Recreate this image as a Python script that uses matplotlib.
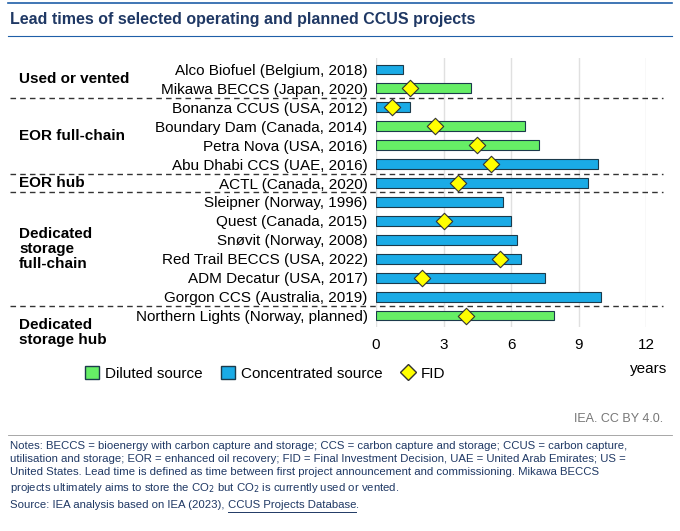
import matplotlib
matplotlib.use("Agg")
import matplotlib.pyplot as plt
from matplotlib.transforms import blended_transform_factory
from matplotlib.patches import Patch
from matplotlib.lines import Line2D

plt.rcParams['font.family'] = ['Liberation Sans', 'DejaVu Sans']

projects = ["Alco Biofuel (Belgium, 2018)", "Mikawa BECCS (Japan, 2020)",
            "Bonanza CCUS (USA, 2012)", "Boundary Dam (Canada, 2014)",
            "Petra Nova (USA, 2016)", "Abu Dhabi CCS (UAE, 2016)",
            "ACTL (Canada, 2020)", "Sleipner (Norway, 1996)",
            "Quest (Canada, 2015)", "Snøvit (Norway, 2008)",
            "Red Trail BECCS (USA, 2022)", "ADM Decatur (USA, 2017)",
            "Gorgon CCS (Australia, 2019)", "Northern Lights (Norway, planned)"]
lead_time = [1.2, 4.2, 1.5, 6.6, 7.25, 9.85, 9.4, 5.65, 6.0, 6.25, 6.45, 7.5, 10.0, 7.9]
source = ["C", "D", "C", "D", "D", "C", "C", "C", "C", "C", "C", "C", "C", "D"]
fid = [None, 1.5, 0.7, 2.6, 4.5, 5.1, 3.65, None, 3.0, None, 5.5, 2.05, None, 4.0]
groups = ["Used or vented", "EOR full-chain", "EOR hub",
          "Dedicated\nstorage\nfull-chain", "Dedicated\nstorage hub"]
group_rows = [(0, 1), (2, 5), (6, 6), (7, 12), (13, 13)]

green, blue = "#66ee66", "#1aabe6"
navy = "#1f3864"

fig = plt.figure(figsize=(6.8, 5.31), dpi=100)
ax = fig.add_axes([0.553, 0.384, 0.397, 0.507])
ypos = list(range(len(projects)))
cols = [green if s == "D" else blue for s in source]
ax.barh(ypos, lead_time, height=0.5, color=cols, edgecolor="#1b3a4b", linewidth=0.8, zorder=3)
fx = [f for f in fid if f is not None]
fy = [y for y, f in zip(ypos, fid) if f is not None]
ax.scatter(fx, fy, marker="D", s=70, color="#ffff00", edgecolor="#333333", linewidth=0.8, zorder=4)
ax.set_ylim(13.6, -0.6)
ax.set_xlim(0, 12)
ax.set_xticks([0, 3, 6, 9, 12])
ax.tick_params(axis="x", length=0, labelsize=11, pad=8)
ax.set_yticks(ypos)
ax.set_yticklabels(projects, fontsize=11)
ax.tick_params(axis="y", length=0, pad=6)
ax.grid(axis="x", color="#e0e0e0", linewidth=1, zorder=0)
for s in ax.spines.values():
    s.set_visible(False)
ax.text(12.1, 15.8, "years", fontsize=11, ha="center", va="center")

tr = blended_transform_factory(fig.transFigure, ax.transData)
for i, (a, b) in enumerate(group_rows):
    if i > 0:
        ax.plot([0.015, 0.975], [a - 0.5, a - 0.5], transform=tr, color="#333333",
                ls=(0, (4, 3)), lw=1, clip_on=False)
    yc = (a + b) / 2 if b > a else a + (0.9 if i == 4 else 0)
    ax.text(0.028, yc, groups[i], transform=tr,
            fontsize=11, fontweight="bold", va="center", ha="left", linespacing=1.1)

handles = [Patch(facecolor=green, edgecolor="#1b3a4b", label="Diluted source"),
           Patch(facecolor=blue, edgecolor="#1b3a4b", label="Concentrated source"),
           Line2D([], [], marker="D", ls="", markersize=8, markerfacecolor="#ffff00",
                  markeredgecolor="#333333", label="FID")]
fig.legend(handles=handles, loc="center", bbox_to_anchor=(0.39, 0.297), ncol=3, frameon=False,
           fontsize=11, handlelength=0.9, handleheight=0.9, columnspacing=1.2, handletextpad=0.4)

fig.text(0.015, 0.963, "Lead times of selected operating and planned CCUS projects",
         fontsize=11.5, fontweight="bold", color=navy, va="center")
fig.add_artist(Line2D([0.012, 0.988], [0.995, 0.995], color="#1f5fa8", lw=1.2))
fig.add_artist(Line2D([0.012, 0.988], [0.933, 0.933], color="#1f5fa8", lw=0.8))
fig.text(0.975, 0.21, "IEA. CC BY 4.0.", fontsize=9, color="#777777", ha="right", va="center")
fig.add_artist(Line2D([0.012, 0.988], [0.18, 0.18], color="#999999", lw=0.6))
notes = ("Notes: BECCS = bioenergy with carbon capture and storage; CCS = carbon capture and storage; CCUS = carbon capture,\n"
         "utilisation and storage; EOR = enhanced oil recovery; FID = Final Investment Decision, UAE = United Arab Emirates; US =\n"
         "United States. Lead time is defined as time between first project announcement and commissioning. Mikawa BECCS\n"
         "projects ultimately aims to store the CO$_2$ but CO$_2$ is currently used or vented.")
fig.text(0.015, 0.17, notes, fontsize=8.2, color=navy, va="top", linespacing=1.4)
t = fig.text(0.015, 0.049, "Source: IEA analysis based on IEA (2023), ", fontsize=8.2, color=navy, va="center")
fig.canvas.draw()
bb = t.get_window_extent().transformed(fig.transFigure.inverted())
t2 = fig.text(bb.x1, 0.049, "CCUS Projects Database", fontsize=8.2, color=navy, va="center")
fig.canvas.draw()
b2 = t2.get_window_extent().transformed(fig.transFigure.inverted())
fig.add_artist(Line2D([b2.x0, b2.x1], [0.036, 0.036], color=navy, lw=0.7))
fig.text(b2.x1, 0.049, ".", fontsize=8.2, color=navy, va="center")

fig.savefig("out.png", dpi=100)
